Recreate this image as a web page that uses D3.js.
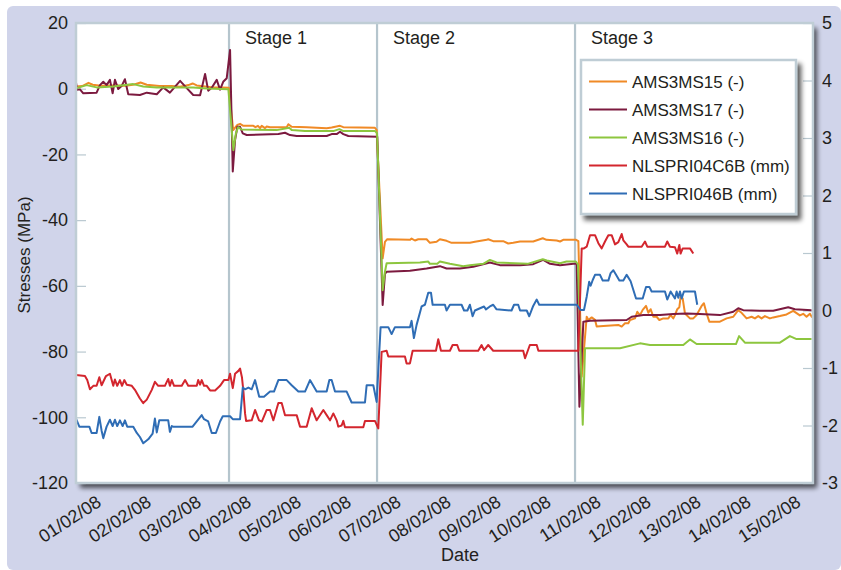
<!DOCTYPE html>
<html>
<head>
<meta charset="utf-8">
<script src="https://cdn.jsdelivr.net/npm/d3@7"></script>
<style>
  html, body { margin: 0; padding: 0; background: #ffffff; }
  svg { display: block; font-family: "Liberation Sans", Arial, Helvetica, sans-serif; }
</style>
</head>
<body>
<svg id="chart" width="841" height="570"></svg>
<script>
// ---- Data: [hours since 01/02/08 00:00, value] ----
// Strain gauges (left axis, MPa)
const ams3ms15 = [[0,0.7],[3,0.8],[6,1.8],[8,1.2],[12,0.9],[18,1.0],[24,0.9],[28,1.3],[31,1.9],[34,1.2],[40,0.8],[46,0.8],[50,0.6],[54,1.1],[56,1.6],[58,1.0],[62,0.7],[66,0.4],[70,0.4],[73.4,0.3],
  [75.5,-12.6],[77.5,-11.0],[78.8,-10.7],[80.4,-11.3],[85.2,-11.3],[86.2,-11.7],[87.4,-11.3],[88.4,-12.0],[89.2,-11.3],[90.8,-12.0],[91.6,-11.5],[93.2,-11.7],[101.2,-11.7],[102,-10.8],[103.6,-11.6],[110.8,-11.7],[120.4,-12.0],[122.8,-11.8],[126.8,-11.3],[128.4,-11.7],[143.6,-11.9],[144.4,-12.5],
  [147.3,-51.6],[148.4,-46.6],[149.5,-45.8],[160.4,-46.0],[161.2,-45.6],[162.8,-46.2],[164.4,-45.8],[168.4,-45.8],[170,-46.9],[173.2,-46.6],[174.8,-45.8],[178,-46.3],[180.4,-46.9],[189.2,-46.9],[191.6,-46.6],[197.3,-46.0],[198,-45.8],[200.4,-46.4],[205.2,-46.4],[207.6,-47.1],[210,-46.9],[213.3,-46.5],[219.6,-46.5],[224.2,-45.5],[226,-46.0],[230.9,-46.2],[232.5,-46.5],[234,-46.0],[240.2,-46.0],[241.3,-46.4],
  [242.9,-87.6],[245.3,-69.4],[246.1,-70.4],[247.7,-69.6],[249.3,-70.3],[250.1,-72.4],[253.3,-72.2],[260.5,-71.9],[262.1,-72.4],[263.7,-71.4],[265.3,-71.4],[266.1,-70.4],[268.5,-69.9],[269.6,-67.9],[270.9,-68.9],[272.2,-67.3],[273.8,-66.1],[274.9,-68.2],[276,-67.1],[277.3,-69.4],[278.9,-69.4],[280.2,-70.4],[282.1,-69.9],[284.5,-69.9],[285.6,-68.9],[286.9,-69.9],[287.7,-68.9],[288.8,-67.1],[289.8,-66.5],[290.4,-63.5],[291.4,-63.8],[292.5,-68.4],[294.9,-69.9],[296.5,-69.9],[298.1,-68.9],[300.5,-66.1],[301.6,-65.3],[302.9,-68.4],[304.2,-70.9],[309.3,-70.9],[312.5,-69.9],[315.7,-69.4],[318.1,-67.4],[319.7,-68.2],[322.1,-69.9],[324.5,-69.4],[326.1,-69.9],[327.7,-69.2],[329.3,-69.9],[330.9,-69.2],[333.3,-69.9],[334.9,-69.6],[338.1,-69.2],[341.3,-68.7],[344.5,-67.6],[347.7,-69.0],[349.3,-68.5],[350.9,-69.4],[352.5,-68.5],[353.6,-69.6]];

const ams3ms17 = [[0,1.8],[0.6,-0.3],[1.9,-0.2],[3.5,-1.4],[9.9,-1.2],[11.5,1.1],[13.1,2.1],[14.7,1.1],[16.3,2.7],[17.6,-1.4],[18.7,2.7],[20.3,-0.1],[21.9,0.8],[23.5,2.9],[25.1,-1.7],[30.7,-1.9],[34,-1.2],[38.8,-1.7],[41.9,0.4],[45.1,-1.2],[50,2.4],[53.2,0.2],[56.3,-1.9],[59.6,-2.0],[62,4.5],[63.5,-0.6],[65.2,0.3],[67.6,2.7],[69.2,-0.3],[70.7,2.1],[72.4,3.2],[74,11.8],
  [75.3,-25.2],[76.4,-15.6],[77.5,-11.6],[78.8,-11.6],[80.1,-13.6],[82,-14.1],[97.2,-13.8],[100.4,-13.4],[102.8,-14.1],[106,-14.4],[120.4,-14.4],[122.8,-13.8],[125.2,-13.8],[126.8,-13.1],[128.4,-13.8],[130.8,-14.4],[144.7,-14.6],
  [147.3,-65.8],[148.4,-56.4],[149.2,-55.7],[160.4,-55.4],[168.4,-54.7],[174.8,-54.0],[178,-54.7],[184.4,-54.7],[190.8,-54.2],[198.8,-52.9],[203.6,-53.7],[213.3,-53.7],[219.6,-53.4],[224.4,-52.1],[227.7,-53.3],[232.5,-53.7],[238.9,-53.3],[240.5,-53.3],
  [241.8,-96.8],[243.7,-70.9],[246.9,-70.6],[264.5,-70.4],[266.9,-69.4],[272.5,-68.9],[280.5,-68.9],[286.9,-68.6],[293.3,-68.4],[299.7,-68.6],[309.3,-68.9],[315.7,-67.9],[318.1,-66.8],[320.5,-67.4],[328.5,-67.6],[334.9,-67.6],[342.1,-66.5],[345.3,-67.1],[353.3,-67.4]];

const ams3ms16 = [[0,0.1],[5.1,1.1],[9.9,0.4],[17.9,0.7],[27.5,1.4],[32.3,0.7],[38.8,0.4],[50,0.4],[56.3,0.4],[62.8,0.1],[73.2,-0.2],
  [75.6,-18.7],[76.8,-13.6],[77.9,-11.7],[79.5,-12.4],[96.4,-12.6],[102.4,-11.9],[103.7,-12.6],[110,-12.9],[123.6,-12.9],[126.5,-12.3],[128.4,-12.9],[143.6,-12.9],[144.6,-13.5],
  [147.3,-61.3],[148.4,-55.7],[149.2,-53.1],[165.2,-52.9],[169.2,-52.6],[170,-53.3],[173.5,-53.3],[174.8,-52.6],[179.6,-53.3],[186,-54.0],[189.2,-53.7],[195.6,-53.3],[198.8,-52.1],[202,-52.9],[216.9,-53.3],[224.2,-51.9],[226.1,-52.3],[232.5,-53.1],[235.6,-52.6],[240.1,-52.6],[241.1,-53.5],
  [243.4,-102.3],[244.5,-79.0],[261.3,-79.0],[270.9,-77.5],[275.7,-78.0],[291.7,-78.0],[294.9,-76.3],[298.1,-77.7],[317,-77.7],[318.5,-75.3],[321.3,-77.3],[338.1,-77.3],[342.9,-75.3],[346.1,-76.2],[353.3,-76.2]];

// Displacement sensors (right axis, mm)
const nlspri04c6b = [[0,-1.12],[4.3,-1.14],[5.4,-1.21],[6.7,-1.37],[8.3,-1.31],[9.9,-1.31],[11.2,-1.16],[12.3,-1.30],[14.4,-1.14],[16.3,-1.10],[17.9,-1.31],[18.7,-1.20],[19.8,-1.31],[21.1,-1.21],[22.1,-1.31],[23.2,-1.21],[24.4,-1.29],[26.8,-1.31],[28.3,-1.38],[30.7,-1.53],[32.3,-1.61],[34,-1.55],[36.4,-1.38],[37.9,-1.24],[39.5,-1.31],[42.7,-1.31],[44.3,-1.19],[45.1,-1.31],[46,-1.21],[47.1,-1.31],[50.8,-1.31],[52.4,-1.21],[53.9,-1.31],[58,-1.31],[58.7,-1.21],[59.6,-1.29],[60.4,-1.21],[61.5,-1.31],[62.8,-1.31],[64.4,-1.39],[66.8,-1.39],[69.2,-1.31],[71.1,-1.21],[73.2,-1.21],[74,-1.10],[75.3,-1.35],[76.4,-1.10],[78,-1.05],[78.8,-1.01],[79.7,-1.16],[80.4,-1.40],[81.2,-1.79],[81.7,-1.92],
  [84.4,-1.91],[86,-1.73],[87.9,-1.91],[89.3,-1.93],[91.6,-1.73],[93.2,-1.73],[94.8,-1.91],[97.2,-1.61],[98.8,-1.61],[100.4,-1.82],[106,-1.82],[107.6,-2.02],[110.8,-2.02],[113.2,-1.70],[115.6,-1.91],[118.8,-1.73],[120.4,-1.82],[122,-1.91],[123.6,-1.79],[125.2,-1.91],[126,-2.02],[127.6,-2.00],[128.4,-1.92],[129.2,-2.03],[138,-2.03],[138.8,-1.92],[143.6,-1.92],[145.2,-2.05],
  [146.8,-0.72],[149.2,-0.70],[150,-0.80],[158,-0.80],[158.8,-0.92],[160.4,-0.92],[161.7,-0.70],[172.9,-0.70],[174,-0.50],[175.3,-0.70],[179.6,-0.70],[180.9,-0.60],[183.1,-0.60],[184.1,-0.70],[193.2,-0.70],[194.8,-0.60],[196,-0.69],[198,-0.60],[200.4,-0.70],[214.8,-0.70],[215.7,-0.83],[218,-0.60],[221.3,-0.60],[222.1,-0.70],[241.3,-0.70],
  [242.9,1.08],[244,1.08],[245.3,1.11],[246.9,1.31],[249.3,1.31],[250.9,1.17],[252.5,1.08],[254.1,1.20],[255.7,1.31],[257.3,1.31],[258.9,1.15],[260.5,1.19],[262.1,1.33],[262.9,1.22],[264.5,1.15],[265.3,1.11],[271.7,1.11],[273.3,1.20],[274.4,1.11],[282.9,1.11],[284,1.20],[285.3,1.11],[287.7,1.10],[288.8,0.99],[289.8,1.14],[290.4,0.99],[291.4,1.08],[294.9,1.08],[296.5,0.99]];

const nlspri046b = [[0,-1.88],[1.6,-2.02],[6.4,-2.02],[7.5,-2.13],[9.9,-2.13],[11.2,-1.85],[12.3,-2.09],[13.1,-2.22],[14.7,-2.02],[16.3,-1.90],[17.6,-2.01],[18.7,-1.90],[19.8,-2.01],[21.1,-1.91],[22.4,-2.01],[23.5,-1.91],[24.6,-2.02],[27.5,-2.02],[29.2,-2.13],[30.7,-2.20],[32.3,-2.31],[34.7,-2.24],[36.8,-2.14],[37.9,-1.88],[38.8,-2.12],[40,-1.91],[44.3,-1.91],[45.1,-2.11],[46,-2.01],[46.7,-2.02],[56,-2.02],[58,-1.93],[60.4,-1.82],[61.5,-1.89],[63.5,-1.93],[65.2,-2.13],[67.2,-2.13],[69.2,-1.93],[70.5,-1.84],[74,-1.84],[75.3,-1.89],[78.8,-1.89],
  [80.1,-1.34],[81.2,-1.37],[82.8,-1.34],[84.4,-1.37],[86,-1.21],[88,-1.50],[90.3,-1.50],[93.2,-1.41],[95.1,-1.41],[97.2,-1.21],[101.2,-1.21],[103.6,-1.30],[106.8,-1.41],[110,-1.41],[112.4,-1.21],[115.6,-1.41],[120.4,-1.41],[121.7,-1.21],[122.8,-1.21],[124.4,-1.41],[130,-1.41],[132.4,-1.60],[138.8,-1.60],[139.6,-1.30],[142.8,-1.30],[144.4,-1.59],
  [146.3,-0.29],[150,-0.29],[151.6,-0.41],[153.2,-0.29],[160.4,-0.29],[161.2,-0.18],[162.3,-0.48],[163.6,-0.25],[166,0.07],[167.6,0.10],[169.2,0.31],[170.5,0.31],[171.3,0.10],[177.2,0.10],[178,0.00],[179.6,0.10],[185.2,0.10],[186.4,0.00],[188,0.00],[189.2,0.10],[190.5,-0.10],[191.6,0.00],[196,0.07],[196.9,0.02],[198.8,0.07],[200.4,0.10],[202,0.02],[209.2,0.00],[210.4,0.10],[212.4,0.10],[213.3,0.00],[216.5,0.00],[217.7,-0.10],[219.6,0.08],[221.3,0.19],[222.5,0.10],[240.5,0.10],
  [242.4,0.01],[244,0.01],[245.3,0.24],[246.5,0.50],[247.2,0.43],[248.2,0.53],[249.3,0.62],[251.7,0.62],[253,0.52],[255.7,0.52],[256.8,0.65],[258.1,0.70],[259.4,0.62],[261,0.52],[262.9,0.52],[264.5,0.62],[266.4,0.51],[269,0.21],[272.2,0.21],[273.8,0.41],[275.4,0.41],[276.5,0.33],[282.9,0.33],[284,0.19],[285.6,0.33],[287.7,0.21],[288.5,0.33],[289.3,0.22],[290.1,0.33],[290.9,0.21],[292,0.33],[297.3,0.33],[298.4,0.10]];

const seriesNames = ["AMS3MS15 (-)", "AMS3MS17 (-)", "AMS3MS16 (-)", "NLSPRI04C6B (mm)", "NLSPRI046B (mm)"];
const seriesColors = ["#f08a26", "#7c1a3f", "#8dc63f", "#d3262e", "#2f6db5"];
const seriesAxis = ["left", "left", "left", "right", "right"];
const seriesData = [ams3ms15, ams3ms17, ams3ms16, nlspri04c6b, nlspri046b];

const leftTicks = [-120, -100, -80, -60, -40, -20, 0, 20];
const rightTicks = [-3, -2, -1, 0, 1, 2, 3, 4, 5];
const stageNames = ["Stage 1", "Stage 2", "Stage 3"];
const stageStartHours = [73.5, 144.6, 239.7];
const dayLabels = ["01/02/08","02/02/08","03/02/08","04/02/08","05/02/08","06/02/08","07/02/08","08/02/08","09/02/08","10/02/08","11/02/08","12/02/08","13/02/08","14/02/08","15/02/08"];
const endHours = 354;

// ---- Layout ----
const W = 841, H = 570;
const plot = { left: 76, top: 23, right: 813, bottom: 483 };
const t0 = Date.UTC(2008, 1, 1);
const toDate = h => new Date(t0 + h * 3600e3);
const plainNumber = d => String(d);   // ASCII hyphen for negatives

const svg = d3.select("#chart");
const defs = svg.append("defs");

const shadow = defs.append("filter").attr("id", "dropShadow")
  .attr("x", "-5%").attr("y", "-5%").attr("width", "115%").attr("height", "120%");
shadow.append("feGaussianBlur").attr("in", "SourceAlpha").attr("stdDeviation", 2.6).attr("result", "blur");
shadow.append("feOffset").attr("in", "blur").attr("dx", 4).attr("dy", 5).attr("result", "off");
shadow.append("feComponentTransfer").attr("in", "off").attr("result", "soft")
  .append("feFuncA").attr("type", "linear").attr("slope", 0.65);
const merge = shadow.append("feMerge");
merge.append("feMergeNode").attr("in", "soft");
merge.append("feMergeNode").attr("in", "SourceGraphic");

defs.append("clipPath").attr("id", "plotClip").append("rect")
  .attr("x", plot.left).attr("y", plot.top)
  .attr("width", plot.right - plot.left).attr("height", plot.bottom - plot.top);

// Panel background
svg.append("rect").attr("x", 7).attr("y", 6).attr("width", W - 7).attr("height", H - 6)
  .attr("rx", 6).attr("fill", "#d0d4ea");

// Scales
const x = d3.scaleUtc().domain([toDate(0), toDate(endHours)]).range([plot.left, plot.right]);
const yL = d3.scaleLinear().domain([-120, 20]).range([plot.bottom, plot.top]);
const yR = d3.scaleLinear().domain([-3, 5]).range([plot.bottom, plot.top]);

// Plot area with shadow
svg.append("rect").attr("x", plot.left).attr("y", plot.top)
  .attr("width", plot.right - plot.left).attr("height", plot.bottom - plot.top)
  .attr("fill", "#ffffff").attr("filter", "url(#dropShadow)");

// Inner tick marks on both vertical edges
const tickColor = "#b9c8d0";
svg.append("g").attr("transform", `translate(${plot.left},0)`)
  .call(d3.axisRight(yL).tickValues(leftTicks).tickSize(10).tickFormat(""))
  .call(g => g.select(".domain").remove())
  .call(g => g.selectAll("line").attr("stroke", tickColor).attr("stroke-width", 1.2));
svg.append("g").attr("transform", `translate(${plot.right},0)`)
  .call(d3.axisLeft(yR).tickValues(rightTicks).tickSize(10).tickFormat(""))
  .call(g => g.select(".domain").remove())
  .call(g => g.selectAll("line").attr("stroke", tickColor).attr("stroke-width", 1.2));

// Stage separators
svg.append("g").selectAll("line").data(stageStartHours).join("line")
  .attr("x1", d => x(toDate(d))).attr("x2", d => x(toDate(d)))
  .attr("y1", plot.top).attr("y2", plot.bottom)
  .attr("stroke", "#b5c5cd").attr("stroke-width", 2.2);

svg.append("g").selectAll("text").data(stageNames).join("text")
  .attr("x", (d, i) => x(toDate(stageStartHours[i])) + 16)
  .attr("y", 44)
  .attr("font-size", 18).attr("fill", "#231f20")
  .text(d => d);

// Series lines
const lineFor = (scaleY) => d3.line().x(d => x(toDate(d[0]))).y(d => scaleY(d[1]));
const lines = svg.append("g").attr("clip-path", "url(#plotClip)");
seriesData.forEach((data, i) => {
  const ys = seriesAxis[i] === "left" ? yL : yR;
  lines.append("path").datum(data)
    .attr("fill", "none")
    .attr("stroke", seriesColors[i])
    .attr("stroke-width", 2)
    .attr("stroke-linejoin", "round")
    .attr("d", lineFor(ys));
});

// Plot border
svg.append("rect").attr("x", plot.left).attr("y", plot.top)
  .attr("width", plot.right - plot.left).attr("height", plot.bottom - plot.top)
  .attr("fill", "none").attr("stroke", "#bfcdd5").attr("stroke-width", 2.5);

// Axes labels
const textColor = "#231f20";
svg.append("g").attr("transform", `translate(${plot.left},0)`)
  .call(d3.axisLeft(yL).tickValues(leftTicks).tickSize(0).tickPadding(8).tickFormat(plainNumber))
  .call(g => g.select(".domain").remove())
  .call(g => g.selectAll("text").attr("font-size", 18).attr("fill", textColor)
    .attr("font-family", "Liberation Sans, Arial, sans-serif"));

svg.append("g").attr("transform", `translate(${plot.right},0)`)
  .call(d3.axisRight(yR).tickValues(rightTicks).tickSize(0).tickPadding(9).tickFormat(plainNumber))
  .call(g => g.select(".domain").remove())
  .call(g => g.selectAll("text").attr("font-size", 18).attr("fill", textColor)
    .attr("font-family", "Liberation Sans, Arial, sans-serif"));

const noonTicks = dayLabels.map((d, i) => toDate(i * 24 + 12));
svg.append("g").attr("transform", `translate(0,${plot.bottom})`)
  .call(d3.axisBottom(x).tickValues(noonTicks).tickSize(0)
    .tickFormat((d, i) => dayLabels[i]))
  .call(g => g.select(".domain").remove())
  .call(g => g.selectAll("text")
    .attr("font-size", 18).attr("fill", textColor)
    .attr("font-family", "Liberation Sans, Arial, sans-serif")
    .attr("text-anchor", "end")
    .attr("x", 0).attr("y", 0).attr("dy", 0)
    .attr("transform", "translate(1,22) rotate(-33)"));

svg.append("text").attr("x", 460).attr("y", 561).attr("text-anchor", "middle")
  .attr("font-size", 18).attr("fill", textColor).text("Date");

svg.append("text").attr("transform", "translate(30,255) rotate(-90)")
  .attr("text-anchor", "middle").attr("font-size", 17).attr("fill", textColor)
  .text("Stresses (MPa)");

// Legend
const legend = svg.append("g");
legend.append("rect").attr("x", 581).attr("y", 60).attr("width", 215).attr("height", 154)
  .attr("fill", "#ffffff").attr("stroke", "#bfcdd5").attr("stroke-width", 2.5)
  .attr("filter", "url(#dropShadow)");
const items = legend.selectAll("g.item").data(seriesNames).join("g")
  .attr("class", "item")
  .attr("transform", (d, i) => `translate(0,${81.5 + i * 28})`);
items.append("line").attr("x1", 589).attr("x2", 627).attr("y1", 0).attr("y2", 0)
  .attr("stroke", (d, i) => seriesColors[i]).attr("stroke-width", 2);
items.append("text").attr("x", 632).attr("y", 0).attr("dy", "0.36em")
  .attr("font-size", 17).attr("fill", textColor).text(d => d);
</script>
</body>
</html>
